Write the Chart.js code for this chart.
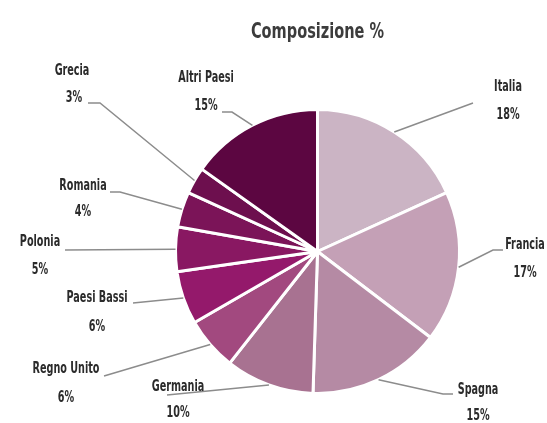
<!DOCTYPE html>
<html>
<head>
<meta charset="utf-8">
<script src="https://cdn.jsdelivr.net/npm/chart.js@4/dist/chart.umd.min.js"></script>
<style>
  html, body { margin: 0; padding: 0; background: #ffffff; }
  #wrap { width: 547px; height: 423px; }
</style>
</head>
<body>
<div id="wrap"><canvas id="c" width="547" height="423"></canvas></div>
<script>
const categories = ["Italia", "Francia", "Spagna", "Germania", "Regno Unito", "Paesi Bassi", "Polonia", "Romania", "Grecia", "Altri Paesi"];
const shares = [18, 17, 15, 10, 6, 6, 5, 4, 3, 15];
const sliceColors = ["#cbb4c4", "#c4a0b6", "#b58aa4", "#a87291", "#a2497f", "#94196b", "#891862", "#7b1458", "#6d0f4e", "#5c0641"];
const chartTitle = "Composizione %";

// label layout: text centre, percent centre, leader points (ending at label)
const labelLayout = [
  { t: [508, 87], p: [508, 115], path: [[473, 103]] },
  { t: [525, 245], p: [525, 273], path: [[493, 250], [503, 250]] },
  { t: [478, 390], p: [478, 416], path: [[443, 394], [453, 394]] },
  { t: [178, 387], p: [178, 413], path: [[167, 395]] },
  { t: [66, 369], p: [66, 398], path: [[104, 376]] },
  { t: [97, 298], p: [97, 327], path: [[133, 303]] },
  { t: [40, 242], p: [40, 270], path: [[65, 250]] },
  { t: [83, 186], p: [83, 212], path: [[120, 192], [110, 192]] },
  { t: [72, 71], p: [74, 98], path: [[100, 103], [88, 103]] },
  { t: [206, 78], p: [206, 106], path: [[232, 112], [222, 112]] }
];

const FONT = "'DejaVu Sans Condensed', 'DejaVu Sans', sans-serif";

function squeezedText(ctx, text, x, y, sx) {
  ctx.save();
  ctx.translate(x, y);
  ctx.scale(sx, 1);
  ctx.fillText(text, 0, 0);
  ctx.restore();
}

const labelPlugin = {
  id: 'leaderLabels',
  afterDatasetsDraw(chart) {
    const ctx = chart.ctx;
    const meta = chart.getDatasetMeta(0);
    ctx.save();
    meta.data.forEach((arc, i) => {
      const pr = arc.getProps(['x', 'y', 'startAngle', 'endAngle', 'outerRadius'], true);
      const mid = (pr.startAngle + pr.endAngle) / 2;
      const sx = pr.x + Math.cos(mid) * pr.outerRadius;
      const sy = pr.y + Math.sin(mid) * pr.outerRadius;
      const lay = labelLayout[i];
      ctx.beginPath();
      ctx.strokeStyle = '#8c8c8c';
      ctx.lineWidth = 1.5;
      ctx.moveTo(sx, sy);
      lay.path.forEach(pt => ctx.lineTo(pt[0], pt[1]));
      ctx.stroke();
    });
    ctx.fillStyle = '#2b2b2b';
    ctx.textAlign = 'center';
    ctx.textBaseline = 'middle';
    ctx.font = 'bold 16px ' + FONT;
    meta.data.forEach((arc, i) => {
      const lay = labelLayout[i];
      squeezedText(ctx, categories[i], lay.t[0], lay.t[1], 0.67);
      squeezedText(ctx, shares[i] + '%', lay.p[0], lay.p[1], 0.67);
    });
    // title
    ctx.fillStyle = '#3c3c3c';
    ctx.font = 'bold 21px ' + FONT;
    squeezedText(ctx, chartTitle, (chart.chartArea.left + chart.chartArea.right) / 2, 33, 0.77);
    ctx.restore();
  }
};

new Chart(document.getElementById('c'), {
  type: 'pie',
  data: {
    labels: categories,
    datasets: [{
      data: shares,
      backgroundColor: sliceColors,
      borderColor: '#ffffff',
      borderWidth: 3
    }]
  },
  options: {
    responsive: false,
    animation: false,
    layout: { padding: { left: 174, right: 86, top: 108, bottom: 28 } },
    plugins: {
      legend: { display: false },
      tooltip: { enabled: false },
      title: { display: false }
    }
  },
  plugins: [labelPlugin]
});
</script>
</body>
</html>
